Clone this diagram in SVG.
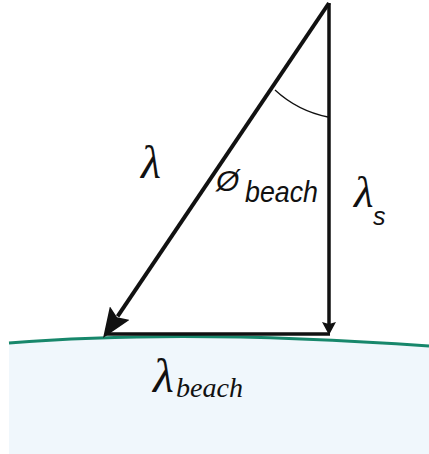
<svg xmlns="http://www.w3.org/2000/svg" width="429" height="454" viewBox="0 0 429 454">
  <style>
    .line { stroke: #111; fill: none; stroke-linecap: butt; }
    .serif { font-family: "Liberation Serif", "DejaVu Serif", serif; font-style: italic; fill: #111; }
    .sans { font-family: "Liberation Sans", Arial, sans-serif; font-style: italic; fill: #111; }
  </style>
  <defs>
    <marker id="bigHead" markerUnits="userSpaceOnUse" markerWidth="30" markerHeight="24" refX="4" refY="12" orient="auto" viewBox="0 0 30 24">
      <path d="M0,0 L30,12 L0,24 L5,12 z" fill="#111"/>
    </marker>
    <marker id="smallHead" markerUnits="userSpaceOnUse" markerWidth="13" markerHeight="14" refX="2" refY="7" orient="auto" viewBox="0 0 13 14">
      <path d="M0,0 L13,7 L0,14 L2,7 z" fill="#111"/>
    </marker>
  </defs>
  <rect width="429" height="454" fill="#ffffff"/>
  <g id="beach">
    <path d="M9,343 Q186,328.5 429,346 L429,454 L9,454 z" fill="#f0f7fc"/>
    <path d="M9,343 Q186,328.5 429,346" fill="none" stroke="#17876b" stroke-width="3"/>
  </g>
  <g id="connectors">
    <line class="line" x1="329" y1="3" x2="117.6" y2="316.4" stroke-width="4" marker-end="url(#bigHead)"/>
    <line class="line" x1="329" y1="3" x2="329" y2="324" stroke-width="3.5" marker-end="url(#smallHead)"/>
    <line class="line" x1="105" y1="334" x2="330" y2="334" stroke-width="3.5"/>
    <path class="line" d="M275,90 A110,110 0 0,0 328,117" stroke="#333" stroke-width="1.3"/>
  </g>
  <g id="label-lambda">
    <text class="serif" x="141" y="178" font-size="46">λ</text>
  </g>
  <g id="label-phi-beach">
    <text class="sans" x="216" y="191" font-size="30" font-style="normal">&#216;</text>
    <text class="sans" x="245" y="202" font-size="30" textLength="73" lengthAdjust="spacingAndGlyphs">beach</text>
  </g>
  <g id="label-lambda-s">
    <text class="serif" x="354" y="207" font-size="45">λ</text>
    <text class="sans" x="373" y="225" font-size="25">s</text>
  </g>
  <g id="label-lambda-beach">
    <text class="serif" x="153" y="392" font-size="48">λ</text>
    <text class="serif" x="176" y="397" font-size="28" textLength="67" lengthAdjust="spacingAndGlyphs">beach</text>
  </g>
</svg>
